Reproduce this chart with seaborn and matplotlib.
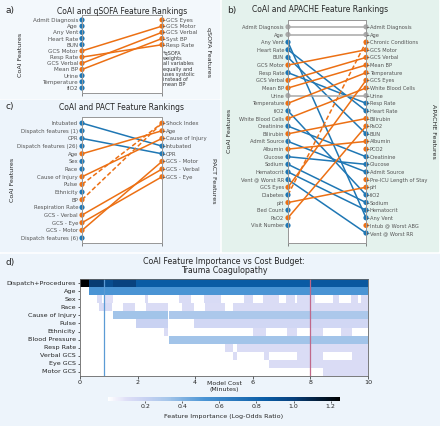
import numpy as np
import matplotlib
matplotlib.use('Agg')
import matplotlib.pyplot as plt
import seaborn as sns
from matplotlib.colors import LinearSegmentedColormap
from matplotlib.patches import Rectangle

sns.set_style('white')
plt.rcParams['font.family'] = ['DejaVu Sans']

BLUE = '#1f77b4'
ORANGE = '#ec7014'
GRAY = '#a8a8a8'
pal = {'b': BLUE, 'o': ORANGE, 'g': GRAY}

# a) qSOFA
qsofa_left = ['Admit Diagnosis', 'Age', 'Any Vent', 'Heart Rate', 'BUN', 'GCS Motor',
              'Resp Rate', 'GCS Verbal', 'Mean BP', 'Urine', 'Temperature', 'fiO2']
qsofa_left_col = ['b', 'b', 'b', 'b', 'b', 'o', 'o', 'o', 'o', 'b', 'b', 'b']
qsofa_right = ['GCS Eyes', 'GCS Motor', 'GCS Verbal', 'Syst BP', 'Resp Rate']
qsofa_right_col = ['o', 'o', 'o', 'o', 'o']
qsofa_extra = [('Mean BP', 'Syst BP', '-')]

# b) APACHE
apache_left = ['Admit Diagnosis', 'Age', 'Any Vent', 'Heart Rate', 'BUN', 'GCS Motor',
               'Resp Rate', 'GCS Verbal', 'Mean BP', 'Urine', 'Temperature', 'fiO2',
               'White Blood Cells', 'Creatinine', 'Bilirubin', 'Admit Source', 'Albumin',
               'Glucose', 'Sodium', 'Hematocrit', 'Vent @ Worst RR', 'GCS Eyes', 'Diabetes',
               'pH', 'Bed Count', 'PaO2', 'Visit Number']
apache_left_col = ['g', 'g', 'b', 'b', 'b', 'o', 'b', 'o', 'o', 'g', 'o', 'b', 'o', 'b',
                   'o', 'b', 'o', 'b', 'b', 'b', 'b', 'o', 'b', 'o', 'b', 'o', 'b']
apache_right = ['Admit Diagnosis', 'Age', 'Chronic Conditions', 'GCS Motor', 'GCS Verbal',
                'Mean BP', 'Temperature', 'GCS Eyes', 'White Blood Cells', 'Urine',
                'Resp Rate', 'Heart Rate', 'Bilirubin', 'PaO2', 'BUN', 'Albumin', 'PCO2',
                'Creatinine', 'Glucose', 'Admit Source', 'Pre-ICU Length of Stay', 'pH',
                'fiO2', 'Sodium', 'Hematocrit', 'Any Vent', 'Intub @ Worst ABG',
                'Vent @ Worst RR']
apache_right_col = ['g', 'g', 'o', 'o', 'o', 'o', 'o', 'o', 'o', 'g', 'b', 'b', 'o', 'o',
                    'b', 'o', 'o', 'b', 'b', 'b', 'o', 'o', 'b', 'b', 'b', 'b', 'o', 'b']
apache_extra = [('Diabetes', 'Chronic Conditions', '--')]

# c) PACT
pact_left = ['Intubated', 'Dispatch features (1)', 'CPR', 'Dispatch features (26)', 'Age',
             'Sex', 'Race', 'Cause of Injury', 'Pulse', 'Ethnicity', 'BP',
             'Respiration Rate', 'GCS - Verbal', 'GCS - Eye', 'GCS - Motor',
             'Dispatch features (6)']
pact_left_col = ['b', 'b', 'b', 'b', 'o', 'b', 'b', 'o', 'o', 'b', 'o', 'b', 'o', 'o', 'o', 'b']
pact_right = ['Shock Index', 'Age', 'Cause of Injury', 'Intubated', 'CPR', 'GCS - Motor',
              'GCS - Verbal', 'GCS - Eye']
pact_right_col = ['o', 'o', 'o', 'b', 'b', 'o', 'o', 'o']
pact_extra = [('Pulse', 'Shock Index', '--'), ('BP', 'Shock Index', '--')]

# d) feature importance vs cost budget: (start cost, end cost, importance)
heat_rows = ['Dispatch+Procedures', 'Age', 'Sex', 'Race', 'Cause of Injury', 'Pulse',
             'Ethnicity', 'Blood Pressure', 'Resp Rate', 'Verbal GCS', 'Eye GCS', 'Motor GCS']
dispatch_seg = [(0, 0.3, 1.25), (0.3, 0.87, 1.02), (0.87, 1.15, 0.93), (1.15, 1.97, 0.99),
                (1.97, 7.97, 0.85), (7.97, 10, 0.87)]
age_seg = [(0.3, 10, 0.52)]
sex_seg = [(0.61, 0.73, 0.12), (0.87, 1.16, 0.1), (2.25, 2.37, 0.12), (3.47, 3.87, 0.12),
           (4.28, 4.91, 0.13), (5.72, 6.01, 0.13), (6.36, 6.88, 0.12), (7.17, 7.46, 0.12),
           (7.57, 8.15, 0.12), (8.79, 9.02, 0.12), (9.42, 9.65, 0.12), (9.77, 10, 0.12)]
race_seg = [(0.66, 1.1, 0.13), (1.5, 1.91, 0.12), (2.31, 3.06, 0.12), (3.53, 3.93, 0.12),
            (4.34, 5.03, 0.12), (5.32, 10, 0.12)]
cause_seg = [(1.16, 3.06, 0.33), (3.12, 10, 0.3)]
pulse_seg = [(1.97, 3.06, 0.2), (3.93, 10, 0.16)]
ethnicity_seg = [(2.92, 3.06, 0.12), (6.01, 6.43, 0.12), (7.2, 7.55, 0.12), (7.99, 8.44, 0.12),
                 (9.03, 9.45, 0.12)]
bp_seg = [(3.09, 10, 0.33)]
resp_seg = [(5.03, 5.32, 0.12), (5.43, 10, 0.12)]
verbal_seg = [(5.32, 5.43, 0.12), (6.42, 6.53, 0.12), (7.55, 8.44, 0.12), (9.45, 10, 0.12)]
eye_seg = [(6.53, 10, 0.12)]
motor_seg = [(8.44, 10, 0.12)]
heat_segs = [dispatch_seg, age_seg, sex_seg, race_seg, cause_seg, pulse_seg, ethnicity_seg,
             bp_seg, resp_seg, verbal_seg, eye_seg, motor_seg]
budget_lines = [0.83, 7.97]
budget_colors = ['#5b9bd5', '#c0688a']

W, H = 440, 426
fig = plt.figure(figsize=(4.4, 4.26), dpi=100)


def px_rect(x0, y0, x1, y1):
    return [x0 / W, 1 - y1 / H, (x1 - x0) / W, (y1 - y0) / H]


def ftext(x, y, s, **kw):
    fig.text(x / W, 1 - y / H, s, **kw)


# panel backgrounds
for (x0, y0, x1, y1), col in [((0, 0, 219, 98), '#f3f8fc'), ((0, 100, 219, 251), '#edf4fb'),
                              ((222, 0, 438, 251), '#e4f2ed'), ((0, 254, 440, 426), '#edf4fb')]:
    fig.add_artist(Rectangle((x0 / W, 1 - y1 / H), (x1 - x0) / W, (y1 - y0) / H,
                             transform=fig.transFigure, color=col, zorder=-5))


def rank_panel(rect, left, left_col, right, right_col, extra, ylim, fs):
    ax = fig.add_axes(px_rect(*rect))
    ax.set_facecolor('white')
    ax.set_xlim(0, 1)
    ax.set_ylim(*ylim)
    links = [(n, n, '-') for n in left if n in right] + extra
    for l, r, ls in links:
        i, j = left.index(l), right.index(r)
        c = GRAY if i == j else (ORANGE if j < i else BLUE)
        kw = {'dashes': (3, 1.6)} if ls == '--' else {}
        ax.plot([0, 1], [i, j], color=c, lw=1.1, zorder=2, **kw)
    ax.scatter(np.zeros(len(left)), np.arange(len(left)), s=14,
               c=[pal[k] for k in left_col], clip_on=False, zorder=4, linewidths=0)
    ax.scatter(np.ones(len(right)), np.arange(len(right)), s=14,
               c=[pal[k] for k in right_col], clip_on=False, zorder=4, linewidths=0)
    ax.set_yticks(np.arange(len(left)))
    ax.set_yticklabels(left, fontsize=fs, color='#333333')
    ax.set_xticks([0, 1])
    ax.set_xticklabels([])
    ax.tick_params(length=1.8, width=0.5, pad=1, colors='#555555', left=True, bottom=True)
    ax2 = ax.twinx()
    ax2.set_ylim(*ylim)
    ax2.set_yticks(np.arange(len(right)))
    ax2.set_yticklabels(right, fontsize=fs, color='#333333')
    ax2.tick_params(length=1.8, width=0.5, pad=1, colors='#555555', right=True)
    for a in (ax, ax2):
        for sp in a.spines.values():
            sp.set_color('#999999')
            sp.set_linewidth(0.7)
    return ax


rank_panel((82, 15, 162, 93), qsofa_left, qsofa_left_col, qsofa_right, qsofa_right_col,
           qsofa_extra, (11.8, -0.8), 4.1)
rank_panel((288, 20, 366, 243), apache_left, apache_left_col, apache_right, apache_right_col,
           apache_extra, (28.3, -0.9), 3.7)
rank_panel((82, 117, 162, 243), pact_left, pact_left_col, pact_right, pact_right_col,
           pact_extra, (15.65, -0.8), 3.9)

tfs = 5.5
ftext(5, 11, 'a)', fontsize=6.5, va='center')
ftext(122, 11, 'CoAI and qSOFA Feature Rankings', fontsize=tfs, ha='center', va='center')
ftext(227, 10, 'b)', fontsize=6.5, va='center')
ftext(320, 10, 'CoAI and APACHE Feature Rankings', fontsize=tfs, ha='center', va='center')
ftext(5, 107, 'c)', fontsize=6.5, va='center')
ftext(121, 107, 'CoAI and PACT Feature Rankings', fontsize=tfs, ha='center', va='center')
ftext(5, 263, 'd)', fontsize=6.5, va='center')
ftext(224, 266, 'CoAI Feature Importance vs Cost Budget:\nTrauma Coagulopathy', fontsize=5.7,
      ha='center', va='center', linespacing=1.0)

lfs = 4.6
ftext(20, 55, 'CoAI Features', fontsize=lfs, rotation=90, ha='center', va='center')
ftext(208, 52, 'qSOFA Features', fontsize=lfs, rotation=270, ha='center', va='center')
ftext(12, 180, 'CoAI Features', fontsize=lfs, rotation=90, ha='center', va='center')
ftext(213, 181, 'PACT Features', fontsize=lfs, rotation=270, ha='center', va='center')
ftext(229, 131, 'CoAI Features', fontsize=lfs, rotation=90, ha='center', va='center')
ftext(433, 131, 'APACHE Features', fontsize=lfs, rotation=270, ha='center', va='center')
ftext(163, 51, '*qSOFA\nweights\nall variables\nequally and\nuses systolic\ninstead of\nmean BP',
      fontsize=3.6, ha='left', va='top', linespacing=1.05, color='#333333')

# heatmap
ncol = 200
centers = (np.arange(ncol) + 0.5) * 10 / ncol
mat = np.zeros((len(heat_rows), ncol))
for r, segs in enumerate(heat_segs):
    for s, e, v in segs:
        mat[r, (centers >= s) & (centers < e)] = v

nodes = [(0.0, '#ffffff'), (0.1, '#dedef6'), (0.2, '#c8d2f2'), (0.32, '#a6c6ea'),
         (0.52, '#4a94d4'), (0.85, '#0a5ca5'), (1.0, '#08407c'), (1.25, '#000000')]
cmap = LinearSegmentedColormap.from_list('imp', [(v / 1.25, c) for v, c in nodes])

axd = fig.add_axes(px_rect(80, 279, 368, 376))
cax = fig.add_axes(px_rect(108, 397, 340, 401))
sns.heatmap(mat, ax=axd, cmap=cmap, vmin=0, vmax=1.25, cbar_ax=cax,
            cbar_kws={'orientation': 'horizontal', 'ticks': [0.2, 0.4, 0.6, 0.8, 1.0, 1.2]},
            xticklabels=False, yticklabels=heat_rows)
axd.set_xticks(np.arange(0, ncol + 1, ncol // 5))
axd.set_xticklabels(['0', '2', '4', '6', '8', '10'], rotation=0)
axd.set_yticklabels(heat_rows, rotation=0)
axd.tick_params(labelsize=4.6, length=1.8, width=0.5, pad=1, left=True, bottom=True,
                colors='#222222')
for x, c in zip(budget_lines, budget_colors):
    axd.axvline(x * ncol / 10, color=c, lw=0.9)
for sp in axd.spines.values():
    sp.set_visible(True)
    sp.set_color('#666666')
    sp.set_linewidth(0.6)
axd.text(0.5, -0.055, 'Model Cost\n(Minutes)', transform=axd.transAxes, ha='center', va='top',
         fontsize=4.5, linespacing=1.1)

cax.tick_params(labelsize=4.5, length=1.5, width=0.5, pad=1)
cax.set_xlabel('Feature Importance (Log-Odds Ratio)', fontsize=4.6, labelpad=3)

fig.savefig('out.png', dpi=100)
